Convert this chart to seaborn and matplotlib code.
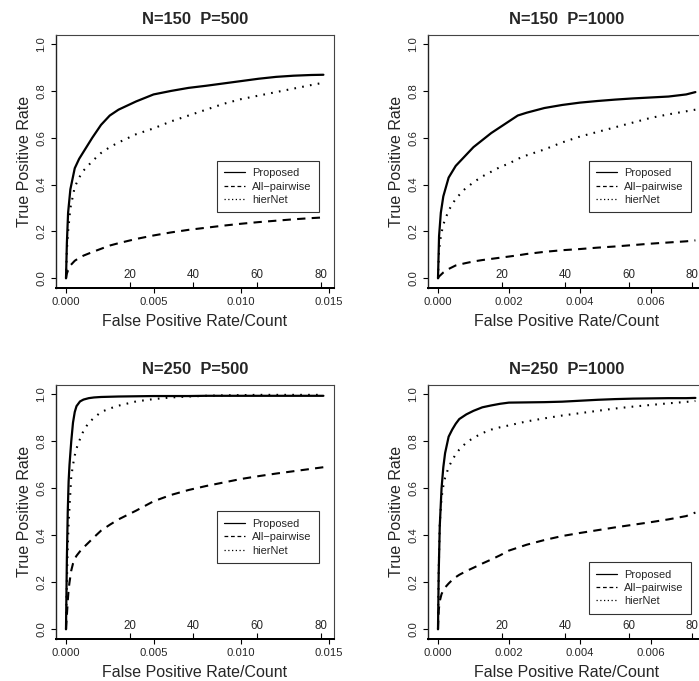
import numpy as np
import pandas as pd
import matplotlib
matplotlib.use("Agg")
import matplotlib.pyplot as plt
import seaborn as sns
from matplotlib.lines import Line2D

# ---------------- data ----------------
methods = ["Proposed", "All\u2212pairwise", "hierNet"]
titles = ["N=150  P=500", "N=150  P=1000", "N=250  P=500", "N=250  P=1000"]
y_ticks = [0.0, 0.2, 0.4, 0.6, 0.8, 1.0]
x_ticks_p500 = [0.000, 0.005, 0.010, 0.015]
x_ticks_p1000 = [0.000, 0.002, 0.004, 0.006]
count_ticks = [20, 40, 60, 80]
negatives_p500 = 5500     # false-positive count per unit FPR
negatives_p1000 = 11150

# N=150, P=500
fpr_150_500 = [0, 0.00005, 0.00012, 0.00025, 0.0005, 0.00075, 0.001, 0.0015, 0.002,
               0.0025, 0.003, 0.004, 0.005, 0.006, 0.007, 0.008, 0.009, 0.010, 0.011,
               0.012, 0.013, 0.014, 0.0147]
prop_150_500 = [0, 0.15, 0.28, 0.38, 0.47, 0.51, 0.54, 0.60, 0.655, 0.695, 0.72, 0.755,
                0.785, 0.80, 0.813, 0.822, 0.832, 0.842, 0.852, 0.86, 0.865, 0.868, 0.869]
allp_150_500 = [0, 0.02, 0.035, 0.055, 0.075, 0.087, 0.097, 0.112, 0.126, 0.14, 0.15,
                0.168, 0.183, 0.196, 0.207, 0.216, 0.225, 0.233, 0.24, 0.246, 0.252,
                0.257, 0.26]
hier_150_500 = [0, 0.12, 0.20, 0.30, 0.39, 0.43, 0.46, 0.50, 0.535, 0.56, 0.58, 0.615,
                0.64, 0.67, 0.695, 0.72, 0.745, 0.765, 0.78, 0.795, 0.81, 0.825, 0.835]

# N=150, P=1000
fpr_150_1000 = [0, 0.00003, 0.00008, 0.00015, 0.0003, 0.0005, 0.00075, 0.001, 0.00125,
                0.0015, 0.00175, 0.002, 0.00225, 0.0025, 0.003, 0.0035, 0.004, 0.0045,
                0.005, 0.0055, 0.006, 0.0065, 0.007, 0.00726]
prop_150_1000 = [0, 0.18, 0.28, 0.35, 0.43, 0.48, 0.52, 0.56, 0.59, 0.62, 0.645, 0.67,
                 0.695, 0.707, 0.727, 0.74, 0.75, 0.757, 0.763, 0.768, 0.772, 0.776,
                 0.785, 0.795]
allp_150_1000 = [0, 0.008, 0.015, 0.025, 0.04, 0.055, 0.064, 0.072, 0.078, 0.083, 0.088,
                 0.093, 0.098, 0.104, 0.113, 0.12, 0.125, 0.131, 0.136, 0.142, 0.148,
                 0.153, 0.158, 0.162]
hier_150_1000 = [0, 0.12, 0.18, 0.23, 0.29, 0.34, 0.38, 0.41, 0.435, 0.455, 0.475, 0.49,
                 0.51, 0.525, 0.55, 0.58, 0.605, 0.625, 0.645, 0.665, 0.685, 0.70,
                 0.713, 0.72]

# N=250, P=500
fpr_250_500 = [0, 0.00005, 0.0001, 0.00015, 0.0002, 0.0003, 0.0004, 0.0005, 0.0006,
               0.0008, 0.001, 0.0013, 0.0016, 0.002, 0.0025, 0.003, 0.004, 0.005, 0.006,
               0.007, 0.008, 0.009, 0.010, 0.011, 0.012, 0.013, 0.014, 0.0147]
prop_250_500 = [0, 0.30, 0.50, 0.63, 0.70, 0.80, 0.88, 0.925, 0.95, 0.97, 0.978, 0.984,
                0.987, 0.989, 0.99, 0.991, 0.992, 0.993, 0.993, 0.993, 0.994, 0.994,
                0.994, 0.994, 0.994, 0.994, 0.994, 0.994]
allp_250_500 = [0, 0.06, 0.12, 0.17, 0.20, 0.25, 0.28, 0.30, 0.313, 0.332, 0.348, 0.37,
                0.392, 0.42, 0.445, 0.468, 0.505, 0.545, 0.572, 0.593, 0.61, 0.625, 0.64,
                0.652, 0.663, 0.673, 0.683, 0.69]
hier_250_500 = [0, 0.20, 0.35, 0.45, 0.52, 0.65, 0.70, 0.74, 0.77, 0.81, 0.845, 0.88,
                0.90, 0.925, 0.94, 0.952, 0.97, 0.98, 0.987, 0.991, 0.994, 0.996, 0.997,
                0.998, 0.998, 0.998, 0.998, 0.998]

# N=250, P=1000
fpr_250_1000 = [0, 0.00002, 0.00005, 0.0001, 0.00015, 0.0002, 0.0003, 0.0004, 0.0005,
                0.0006, 0.0008, 0.001, 0.00125, 0.0015, 0.00175, 0.002, 0.0025, 0.003,
                0.0035, 0.004, 0.0045, 0.005, 0.0055, 0.006, 0.0065, 0.007, 0.00726]
prop_250_1000 = [0, 0.24, 0.44, 0.60, 0.69, 0.75, 0.82, 0.85, 0.875, 0.895, 0.915, 0.93,
                 0.945, 0.953, 0.96, 0.965, 0.966, 0.967, 0.969, 0.973, 0.977, 0.98,
                 0.982, 0.983, 0.984, 0.984, 0.985]
allp_250_1000 = [0, 0.08, 0.12, 0.15, 0.165, 0.178, 0.195, 0.21, 0.222, 0.232, 0.248,
                 0.262, 0.28, 0.297, 0.315, 0.335, 0.36, 0.38, 0.397, 0.41, 0.422, 0.434,
                 0.445, 0.456, 0.468, 0.482, 0.497]
hier_250_1000 = [0, 0.25, 0.45, 0.56, 0.61, 0.645, 0.69, 0.72, 0.745, 0.765, 0.795, 0.815,
                 0.835, 0.85, 0.86, 0.868, 0.885, 0.898, 0.91, 0.92, 0.93, 0.94, 0.948,
                 0.955, 0.962, 0.968, 0.972]

panels = [
    dict(title=titles[0], fpr=fpr_150_500, series=[prop_150_500, allp_150_500, hier_150_500],
         xticks=x_ticks_p500, neg=negatives_p500, leg_y=0.40),
    dict(title=titles[1], fpr=fpr_150_1000, series=[prop_150_1000, allp_150_1000, hier_150_1000],
         xticks=x_ticks_p1000, neg=negatives_p1000, leg_y=0.40),
    dict(title=titles[2], fpr=fpr_250_500, series=[prop_250_500, allp_250_500, hier_250_500],
         xticks=x_ticks_p500, neg=negatives_p500, leg_y=0.40),
    dict(title=titles[3], fpr=fpr_250_1000, series=[prop_250_1000, allp_250_1000, hier_250_1000],
         xticks=x_ticks_p1000, neg=negatives_p1000, leg_y=0.20),
]

# ---------------- styling ----------------
sns.set_theme(style="white")
plt.rcParams["font.family"] = ["Liberation Sans", "DejaVu Sans"]
plt.rcParams["axes.linewidth"] = 0.8

line_styles = ["-", (0, (4, 3)), (0, (0.8, 3))]
line_widths = [1.6, 1.5, 1.5]
legend_styles = ["-", (0, (3, 2.2)), (0, (1, 2))]

W, H = 699, 681
fig = plt.figure(figsize=(W / 100, H / 100), dpi=100)

# panel boxes in pixels: (left, top, width, height)
boxes = [(55.7, 34.7, 278, 253), (427.7, 34.7, 278, 253),
         (55.7, 385.0, 278, 253.7), (427.7, 385.0, 278, 253.7)]

for p, (bl, bt, bw, bh) in zip(panels, boxes):
    ax = fig.add_axes([bl / W, (H - bt - bh) / H, bw / W, bh / H])
    df = pd.DataFrame({"fpr": np.tile(p["fpr"], 3),
                       "tpr": np.concatenate(p["series"]),
                       "method": np.repeat(methods, len(p["fpr"]))})
    for i, m in enumerate(methods):
        sub = df[df["method"] == m]
        sns.lineplot(data=sub, x="fpr", y="tpr", ax=ax, color="black",
                     linestyle=line_styles[i], linewidth=line_widths[i],
                     estimator=None, sort=False, legend=False)
    xmax = max(p["fpr"])
    ax.set_xlim(-0.04 * xmax, 1.04 * xmax)
    ax.set_ylim(-0.04, 1.04)
    ax.set_xticks(p["xticks"])
    ax.set_xticklabels([f"{v:.3f}" for v in p["xticks"]])
    ax.set_yticks(y_ticks)
    ax.set_yticklabels([f"{v:.1f}" for v in y_ticks], rotation=90, va="center")
    ax.tick_params(axis="both", which="major", direction="out", length=3.6, width=0.8,
                   color="black", labelsize=8.1, pad=3.2, bottom=True, left=True)
    ax.set_xlabel("False Positive Rate/Count", fontsize=11.5, labelpad=5.0)
    ax.set_ylabel("True Positive Rate", fontsize=11.5, labelpad=3)
    ax.set_title(p["title"], fontsize=11.9, fontweight="bold", pad=8)
    for s in ["top", "right"]:
        ax.spines[s].set_color("#444444")
        ax.spines[s].set_linewidth(0.8)
    ax.spines["left"].set_color("#222222")
    ax.spines["left"].set_linewidth(1.0)
    ax.spines["bottom"].set_color("black")
    ax.spines["bottom"].set_linewidth(1.4)

    neg = p["neg"]
    sec = ax.secondary_xaxis(0.0, functions=(lambda x, n=neg: x * n,
                                             lambda c, n=neg: c / n))
    sec.set_alignment("top")
    sec.set_xticks(count_ticks)
    sec.set_xticklabels([str(c) for c in count_ticks])
    sec.tick_params(axis="x", direction="out", length=4.3, width=0.8, color="black",
                    labelsize=8.3, pad=0.2)
    sec.spines["top"].set_linewidth(1.4)
    sec.spines["top"].set_color("black")

    handles = [Line2D([], [], color="black", linestyle=legend_styles[i], linewidth=0.9)
               for i in range(3)]
    leg = ax.legend(handles, methods, loc="center right",
                    bbox_to_anchor=(0.948, p["leg_y"]), fontsize=7.9,
                    frameon=True, fancybox=False, handlelength=1.9,
                    handletextpad=0.65, labelspacing=0.3, borderpad=0.7,
                    borderaxespad=0.0)
    leg.get_frame().set_edgecolor("black")
    leg.get_frame().set_linewidth(0.8)

fig.savefig("out.png", dpi=100)
